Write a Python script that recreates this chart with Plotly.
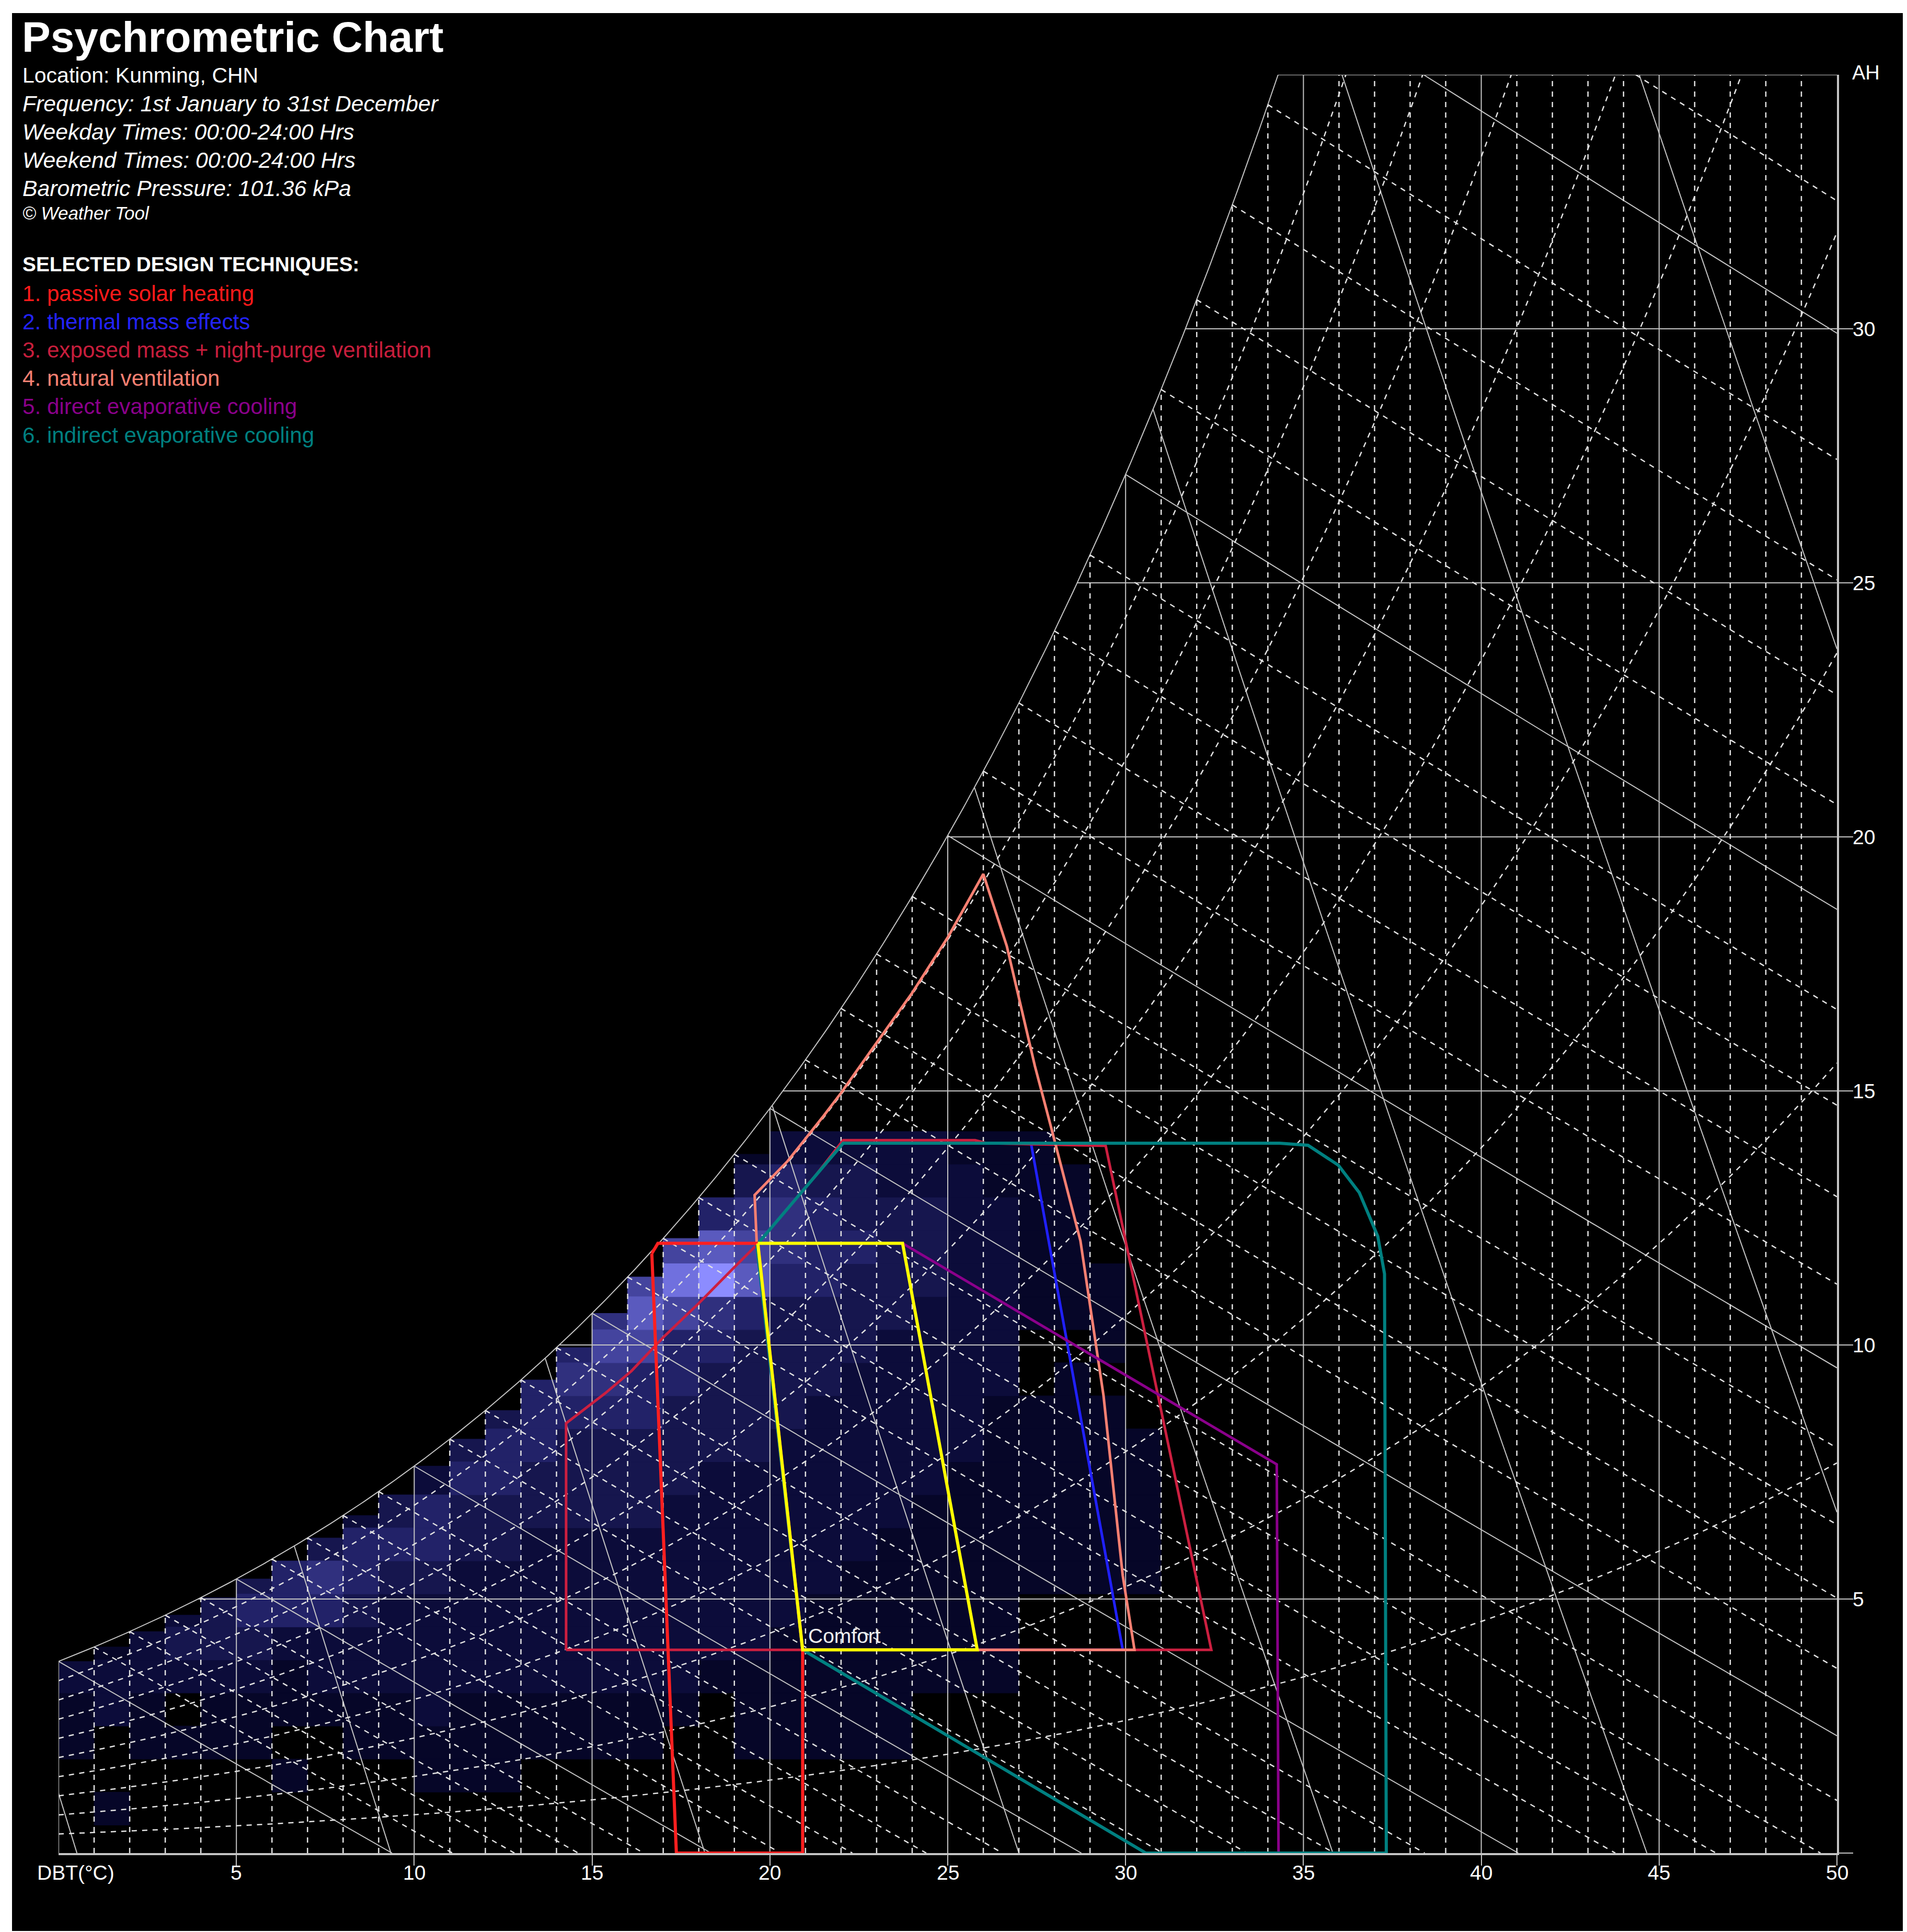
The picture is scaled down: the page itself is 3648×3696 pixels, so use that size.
import numpy as np
import plotly.graph_objects as go

# ---------------- canvas / frame ----------------
W_PX, H_PX = 3648, 3696
M_L, M_R, M_T, M_B = 104, 142, 135, 159
FONT = "Liberation Sans, Arial, sans-serif"

P_KPA = 101.36
DBT_RANGE = [0, 50]
AH_RANGE = [0, 35]
X_TICKS = [5, 10, 15, 20, 25, 30, 35, 40, 45, 50]
X_TICK_TEXT = ["5", "10", "15", "20", "25", "30", "35", "40", "45", "50"]
Y_TICKS = [0, 5, 10, 15, 20, 25, 30]
Y_TICK_TEXT = ["", "5", "10", "15", "20", "25", "30"]

RH_LEVELS = [0.1, 0.2, 0.3, 0.4, 0.5, 0.6, 0.7, 0.8, 0.9]
WB_LEVELS = list(range(0, 46))
SV_LEVELS = [0.775, 0.800, 0.825, 0.850, 0.875, 0.900, 0.925, 0.950]
AH_LINES = [5, 10, 15, 20, 25, 30]

# ---------------- frequency cells (1 degC x 0.65 g/kg) ----------------
HEAT_AH_EDGES = [-0.10, 0.55, 1.20, 1.85, 2.50, 3.15, 3.80, 4.45, 5.10, 5.75, 6.40, 7.05,
                 7.70, 8.35, 9.00, 9.65, 10.30, 10.95, 11.60, 12.25, 12.90, 13.55, 14.20, 14.85]
# column (DBT lower edge) -> (first row index, intensity digits going up; 0 = empty)
HEAT_COLS = {
    0: (3, "112"),
    1: (1, "100221"),
    2: (3, "1122"),
    3: (3, "10232"),
    4: (3, "11233"),
    5: (3, "112343"),
    6: (2, "1011244"),
    7: (4, "122453"),
    8: (3, "11223442"),
    9: (3, "11222343"),
    10: (2, "1122223442"),
    11: (2, "11122223343"),
    12: (2, "111222233443"),
    13: (3, "112222233444"),
    14: (3, "1122222333454"),
    15: (3, "11222223334565"),
    16: (3, "112222233344676"),
    17: (4, "122222233344686"),
    18: (5, "1222222333459742"),
    19: (3, "1112222223333476531"),
    20: (3, "1111222222333345542"),
    21: (3, "1111122222233344432"),
    22: (3, "1111112222223334332"),
    23: (3, "1111111222222333322"),
    24: (5, "11111122222233322"),
    25: (5, "11111112222222221"),
    26: (5, "11111111122222211"),
    27: (8, "11111100111111"),
    28: (8, "1111111011111"),
    29: (8, "1111110111"),
    30: (8, "11111"),
}
HEAT_COLORS = ["#060628", "#0c0c3a", "#16164e", "#222268", "#30307e",
               "#44449e", "#5a5abe", "#7070de", "#8c8cff"]

# ---------------- design technique zones ----------------
COMFORT_DBT = [19.66, 23.73, 25.83, 20.92, 19.66]
COMFORT_AH = [12.0, 12.0, 4.0, 4.0, 12.0]

SOLAR_DBT = [16.68, 16.85, 19.66, 20.92, 20.92, 17.37, 16.68]
SOLAR_AH = [11.80, 12.0, 12.0, 4.0, 0.0, 0.0, 11.80]

MASS_DBT = [19.66, 22.06, 27.34, 29.92, 20.92, 19.66]
MASS_AH = [12.0, 13.97, 13.97, 4.0, 4.0, 12.0]

PURGE_DBT = [14.27, 14.27, 15.37, 16.11, 17.0, 18.0, 19.0, 19.63, 20.5, 21.3, 22.06,
             25.77, 26.1, 29.44, 32.41, 14.27]
PURGE_AH = [4.0, 8.46, 9.05, 9.49, 10.15, 10.82, 11.53, 11.97, 12.69, 13.35, 14.03,
            14.03, 13.97, 13.92, 4.0, 4.0]

VENT_DBT = [20.92, 19.63, 19.57, 20.5, 21.5, 22.0, 22.85, 24.0, 25.0, 26.0, 26.66, 27.45,
            27.9, 28.73, 29.38, 29.92, 30.25, 20.92]
VENT_AH = [4.0, 12.0, 12.95, 13.62, 14.5, 14.96, 15.8, 16.93, 18.02, 19.27, 17.85, 15.49,
           14.3, 12.05, 9.0, 5.46, 4.0, 4.0]

DIRECT_DBT = [25.83, 23.73, 34.25, 34.30, 30.57, 20.92, 25.83]
DIRECT_AH = [4.0, 12.0, 7.65, 0.0, 0.0, 4.0, 4.0]

INDIRECT_DBT = [19.63, 22.06, 34.33, 35.13, 35.98, 36.57, 37.09, 37.28, 37.33, 30.57, 20.92, 19.63]
INDIRECT_AH = [11.97, 13.97, 13.97, 13.93, 13.54, 13.0, 12.14, 11.4, 0.0, 0.0, 4.0, 11.97]

ZONE_COLORS = {
    "mass": "#2020ff", "purge": "#cc1f40", "vent": "#fa8072", "direct": "#8b008b",
    "indirect": "#008080", "solar": "#ff1f1f", "comfort": "#ffff00",
}

INFO_LINES = [
    ("Location: Kunming, CHN", False),
    ("Frequency: 1st January to 31st December", True),
    ("Weekday Times: 00:00-24:00 Hrs", True),
    ("Weekend Times: 00:00-24:00 Hrs", True),
    ("Barometric Pressure: 101.36 kPa", True),
]
TECHNIQUES = [
    ("1. passive solar heating", "#ff1a1a"),
    ("2. thermal mass effects", "#2323ff"),
    ("3. exposed mass + night-purge ventilation", "#c81e3c"),
    ("4. natural ventilation", "#f88072"),
    ("5. direct evaporative cooling", "#8a008a"),
    ("6. indirect evaporative cooling", "#008080"),
]


# ---------------- psychrometrics for the chart grid ----------------
def psat(t):
    return 0.61094 * np.exp(17.625 * t / (t + 243.04))


def wsat(t):
    ps = psat(t)
    return 622.0 * ps / (P_KPA - ps)


def bisect(f, lo, hi, n=60):
    flo = f(lo)
    for _ in range(n):
        mid = 0.5 * (lo + hi)
        fm = f(mid)
        if (fm > 0) == (flo > 0):
            lo, flo = mid, fm
        else:
            hi = mid
    return 0.5 * (lo + hi)


AH_MAX = AH_RANGE[1]
T_TOP = bisect(lambda t: wsat(t) - AH_MAX, 20, 45)

solid_x, solid_y, dash_x, dash_y = [], [], [], []


def add(xs, ys, dashed):
    tx, ty = (dash_x, dash_y) if dashed else (solid_x, solid_y)
    tx.extend(list(xs) + [None])
    ty.extend(list(ys) + [None])


ts = np.linspace(0, T_TOP, 400)
add(ts, wsat(ts), False)
add([T_TOP, 50], [AH_MAX, AH_MAX], False)
add([0, 0], [0, wsat(0.0)], False)

for t in range(1, 50):
    add([t, t], [0, min(wsat(t), AH_MAX)], t % 5 != 0)

for a in AH_LINES:
    t0 = bisect(lambda t: wsat(t) - a, -5, 50)
    add([t0, 50], [a, a], False)

for rh in RH_LEVELS:
    f = lambda t: 622.0 * rh * psat(t) / (P_KPA - rh * psat(t))
    t_end = 50.0 if f(50.0) <= AH_MAX else bisect(lambda t: f(t) - AH_MAX, 0, 50)
    tt = np.linspace(0, t_end, 300)
    add(tt, f(tt), True)

for twb in WB_LEVELS:
    ws = wsat(twb) / 1000.0
    A = (2501 - 2.326 * twb) * ws
    wfun = lambda t: (A - 1.006 * (t - twb)) / (2501 + 1.86 * t - 4.186 * twb) * 1000.0
    if ws * 1000 > AH_MAX:
        Wk = AH_MAX / 1000.0
        t0 = (A + 1.006 * twb - Wk * (2501 - 4.186 * twb)) / (1.86 * Wk + 1.006)
    else:
        t0 = float(twb)
    if t0 >= 50:
        continue
    t1 = min((A + 1.006 * twb) / 1.006, 50.0)
    tt = np.linspace(t0, t1, 20)
    add(tt, wfun(tt), twb % 5 != 0)

for v in SV_LEVELS:
    tfun = lambda w: v * P_KPA / (0.287042 * (1 + 1.6078 * w / 1000.0)) - 273.15
    w_lo = 0.0
    if tfun(0.0) > 50:
        w_lo = bisect(lambda w: tfun(w) - 50, 0, AH_MAX)
    g = lambda w: w - wsat(tfun(w))
    w_hi = AH_MAX if g(AH_MAX) < 0 else bisect(g, w_lo, AH_MAX)
    if tfun(w_hi) < 0:
        w_hi = bisect(lambda w: tfun(w), w_lo, w_hi)
    ww = np.linspace(w_lo, w_hi, 40)
    add(tfun(ww), ww, False)

fig = go.Figure()

# frequency cells: one filled trace per intensity level, cell tops stop at saturation
cells = {lv: ([], []) for lv in range(1, 10)}
for c, (r0, digits) in HEAT_COLS.items():
    for i, ch in enumerate(digits):
        lv = int(ch)
        if lv == 0:
            continue
        r = r0 + i
        y0 = max(HEAT_AH_EDGES[r], 0.0)
        y1 = min(HEAT_AH_EDGES[r + 1], wsat(float(c)))
        if y1 - y0 < 0.03:
            continue
        xs, ys = cells[lv]
        xs.extend([c, c + 1, c + 1, c, c, None])
        ys.extend([y0, y0, y1, y1, y0, None])
for lv, (xs, ys) in cells.items():
    if not xs:
        continue
    col = HEAT_COLORS[lv - 1]
    fig.add_trace(go.Scatter(x=xs, y=ys, mode="lines", fill="toself", fillcolor=col,
                             line=dict(color=col, width=1), hoverinfo="skip"))

fig.add_trace(go.Scatter(x=solid_x, y=solid_y, mode="lines", hoverinfo="skip",
                         line=dict(color="#c4c4c4", width=2)))
fig.add_trace(go.Scatter(x=dash_x, y=dash_y, mode="lines", hoverinfo="skip",
                         line=dict(color="#e2e2e2", width=2.5, dash="10px,10px")))

zones = [
    (MASS_DBT, MASS_AH, "mass", 5),
    (PURGE_DBT, PURGE_AH, "purge", 5),
    (VENT_DBT, VENT_AH, "vent", 5),
    (DIRECT_DBT, DIRECT_AH, "direct", 5),
    (INDIRECT_DBT, INDIRECT_AH, "indirect", 6),
    (SOLAR_DBT, SOLAR_AH, "solar", 6),
    (COMFORT_DBT, COMFORT_AH, "comfort", 6),
]
for xs, ys, key, w in zones:
    fig.add_trace(go.Scatter(x=xs, y=ys, mode="lines", hoverinfo="skip",
                             line=dict(color=ZONE_COLORS[key], width=w)))

PLOT_W = W_PX - M_L - M_R
PLOT_H = H_PX - M_T - M_B


def pxx(px):
    return (px - M_L) / PLOT_W


def pxy(py):
    return (H_PX - M_B - py) / PLOT_H


ann = []


def text(s, x, y, size, color="#ffffff", anchor="left", xref="paper", yref="paper"):
    ann.append(dict(text=s, x=x, y=y, xref=xref, yref=yref,
                    xanchor=anchor, yanchor="middle", showarrow=False,
                    font=dict(family=FONT, size=size, color=color)))


text("<b>Psychrometric Chart</b>", pxx(32), pxy(62), 82)
y = 136
for s, it in INFO_LINES:
    if it:
        text(f"<i>{s}</i>", pxx(33), pxy(y), 42.7)
    else:
        text(s, pxx(33), pxy(y), 41)
    y += 54
text("<i>© Weather Tool</i>", pxx(33), pxy(400), 35)
text("<b>SELECTED DESIGN TECHNIQUES:</b>", pxx(33), pxy(498), 38.8)
y = 553
for s, col in TECHNIQUES:
    text(s, pxx(33), pxy(y), 42.2, col)
    y += 54.2
text("DBT(°C)", pxx(61), pxy(3574), 39)
text("AH", pxx(3533), pxy(131), 38)
for tv, tt in zip(X_TICKS, X_TICK_TEXT):
    text(tt, tv, pxy(3574), 39, anchor="center", xref="x")
for tv, tt in zip(Y_TICKS, Y_TICK_TEXT):
    if tt:
        text(tt, pxx(3534), tv, 39, yref="y")
text("Comfort", 21.05, 4.27, 39, color="#f0f0f0", xref="x", yref="y")

shapes = [dict(type="rect", xref="paper", yref="paper", layer="below",
               x0=pxx(15), x1=pxx(3632), y0=pxy(3686), y1=pxy(17),
               fillcolor="#000000", line=dict(width=0))]

axis_common = dict(showgrid=False, zeroline=False, showline=True, linecolor="#c4c4c4",
                   linewidth=4, ticks="outside", tickwidth=2, tickcolor="#c4c4c4",
                   showticklabels=False, fixedrange=True)
fig.update_layout(
    width=W_PX, height=H_PX, margin=dict(l=M_L, r=M_R, t=M_T, b=M_B),
    paper_bgcolor="#ffffff", plot_bgcolor="rgba(0,0,0,0)", showlegend=False,
    xaxis=dict(range=DBT_RANGE, tickvals=X_TICKS, ticklen=20, **axis_common),
    yaxis=dict(range=AH_RANGE, tickvals=Y_TICKS, side="right", ticklen=27, **axis_common),
    annotations=ann, shapes=shapes,
)
fig.write_html("out.html")
